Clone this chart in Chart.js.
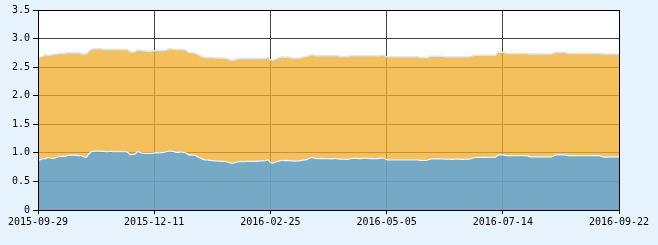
<!DOCTYPE html>
<html>
<head>
<meta charset="utf-8">
<script src="https://cdn.jsdelivr.net/npm/chart.js@4/dist/chart.umd.min.js"></script>
<style>
  html, body { margin: 0; padding: 0; background: #e6f2fc; }
  canvas { display: block; }
</style>
</head>
<body>
<canvas id="c" width="658" height="245"></canvas>
<script>
// Tick labels on the x axis (one every 48 trading days)
const xTickLabels = ['2015-09-29', '2015-12-11', '2016-02-25', '2016-05-05', '2016-07-14', '2016-09-22'];
const xTickStep = 48;

// Lower (blue) series
const lowerSeries = [
  0.87,0.88,0.90,0.90,0.92,0.91,0.905,0.91,0.93,0.94,
  0.94,0.94,0.95,0.96,0.96,0.96,0.955,0.95,0.95,0.93,
  0.92,0.98,1.02,1.03,1.03,1.03,1.03,1.025,1.02,1.02,
  1.03,1.02,1.02,1.02,1.02,1.02,1.02,1.01,0.97,0.97,
  0.975,1.02,1.01,0.995,0.99,0.99,0.99,0.99,1.00,1.005,
  1.00,1.005,1.01,1.02,1.03,1.03,1.025,1.01,1.01,1.015,
  1.01,1.00,0.97,0.96,0.96,0.955,0.93,0.91,0.89,0.875,
  0.875,0.87,0.865,0.86,0.86,0.855,0.85,0.85,0.845,0.83,
  0.82,0.825,0.84,0.845,0.85,0.845,0.85,0.85,0.855,0.85,
  0.85,0.855,0.86,0.86,0.865,0.88,0.83,0.82,0.835,0.85,
  0.86,0.87,0.865,0.87,0.865,0.86,0.855,0.86,0.86,0.87,
  0.875,0.88,0.90,0.92,0.91,0.90,0.90,0.905,0.90,0.90,
  0.90,0.895,0.90,0.90,0.895,0.89,0.89,0.89,0.885,0.90,
  0.905,0.905,0.905,0.90,0.905,0.91,0.905,0.90,0.905,0.90,
  0.90,0.905,0.91,0.905,0.88,0.875,0.875,0.875,0.875,0.875,
  0.875,0.875,0.875,0.875,0.875,0.875,0.875,0.875,0.87,0.87,
  0.87,0.875,0.89,0.895,0.895,0.90,0.895,0.895,0.89,0.89,
  0.89,0.885,0.89,0.89,0.89,0.885,0.89,0.89,0.89,0.90,
  0.915,0.92,0.92,0.92,0.925,0.92,0.92,0.92,0.925,0.925,
  0.96,0.965,0.965,0.955,0.95,0.95,0.95,0.95,0.95,0.95,
  0.95,0.95,0.95,0.93,0.93,0.93,0.93,0.93,0.93,0.93,
  0.93,0.93,0.93,0.945,0.965,0.965,0.965,0.965,0.965,0.95,
  0.95,0.95,0.95,0.95,0.95,0.95,0.95,0.95,0.95,0.95,
  0.95,0.95,0.95,0.935,0.925,0.925,0.93,0.93,0.93,0.93,
  0.93
];

// Upper (orange) series top edge
const upperSeries = [
  2.67,2.68,2.69,2.72,2.71,2.71,2.72,2.73,2.73,2.74,
  2.74,2.745,2.75,2.75,2.75,2.755,2.75,2.75,2.74,2.73,
  2.735,2.78,2.81,2.82,2.82,2.82,2.82,2.815,2.81,2.81,
  2.815,2.81,2.81,2.81,2.81,2.81,2.81,2.81,2.77,2.765,
  2.77,2.80,2.795,2.79,2.785,2.78,2.78,2.78,2.785,2.79,
  2.79,2.79,2.795,2.80,2.82,2.82,2.815,2.81,2.81,2.815,
  2.81,2.80,2.76,2.75,2.75,2.745,2.72,2.70,2.68,2.67,
  2.67,2.67,2.67,2.665,2.66,2.66,2.66,2.655,2.65,2.635,
  2.62,2.625,2.64,2.645,2.65,2.65,2.65,2.65,2.65,2.65,
  2.65,2.65,2.65,2.65,2.655,2.67,2.63,2.62,2.635,2.66,
  2.675,2.68,2.675,2.68,2.67,2.66,2.655,2.66,2.66,2.67,
  2.68,2.69,2.70,2.72,2.71,2.70,2.70,2.70,2.70,2.70,
  2.70,2.70,2.70,2.70,2.70,2.685,2.685,2.685,2.685,2.70,
  2.70,2.70,2.70,2.70,2.70,2.705,2.70,2.70,2.70,2.70,
  2.70,2.70,2.71,2.705,2.68,2.68,2.68,2.68,2.68,2.68,
  2.68,2.68,2.68,2.68,2.68,2.68,2.68,2.68,2.67,2.67,
  2.67,2.675,2.69,2.69,2.69,2.69,2.69,2.69,2.68,2.68,
  2.68,2.68,2.68,2.68,2.68,2.68,2.68,2.68,2.68,2.69,
  2.71,2.71,2.71,2.71,2.71,2.71,2.71,2.71,2.71,2.71,
  2.76,2.76,2.76,2.75,2.74,2.74,2.74,2.74,2.74,2.74,
  2.74,2.74,2.74,2.73,2.73,2.73,2.73,2.73,2.73,2.73,
  2.73,2.73,2.73,2.745,2.76,2.76,2.76,2.76,2.76,2.74,
  2.74,2.74,2.74,2.74,2.74,2.74,2.74,2.74,2.74,2.74,
  2.74,2.74,2.74,2.735,2.73,2.73,2.73,2.73,2.73,2.73,
  2.73
];

const toPoints = arr => arr.map((v, i) => ({ x: i, y: v }));
const lastIndex = (xTickLabels.length - 1) * xTickStep;
const tickFont = { family: 'DejaVu Sans Mono', size: 10 };

const framePlugin = {
  id: 'frame',
  beforeDraw(chart) {
    const { ctx, chartArea: a } = chart;
    ctx.save();
    ctx.fillStyle = '#ffffff';
    ctx.fillRect(a.left, a.top, a.right - a.left, a.bottom - a.top);
    ctx.restore();
  },
  afterDatasetsDraw(chart) {
    const { ctx, chartArea: a } = chart;
    ctx.save();
    ctx.strokeStyle = '#000';
    ctx.lineWidth = 1;
    const l = Math.round(a.left) + 0.5, r = Math.round(a.right) + 0.5;
    const t = Math.round(a.top) + 0.5, b = Math.round(a.bottom) + 0.5;
    ctx.strokeRect(l, t, r - l, b - t);
    ctx.restore();
  }
};

new Chart(document.getElementById('c'), {
  type: 'line',
  data: {
    datasets: [
      {
        data: toPoints(lowerSeries),
        fill: 'origin',
        backgroundColor: 'rgba(106,162,193,0.93)',
        borderColor: '#eef4f8',
        borderWidth: 1.2,
        pointRadius: 0,
        tension: 0
      },
      {
        data: toPoints(upperSeries),
        fill: '-1',
        backgroundColor: 'rgba(240,172,44,0.765)',
        borderColor: '#d6e8f6',
        borderWidth: 1.5,
        pointRadius: 0,
        tension: 0
      }
    ]
  },
  options: {
    responsive: false,
    animation: false,
    layout: { padding: { top: 10, right: 39, left: 0, bottom: 0 } },
    plugins: { legend: { display: false }, tooltip: { enabled: false } },
    scales: {
      x: {
        type: 'linear',
        min: 0,
        max: lastIndex,
        afterFit: s => { s.height = 35; },
        ticks: {
          stepSize: xTickStep,
          autoSkip: false,
          maxRotation: 0,
          color: '#000',
          font: tickFont,
          padding: 2,
          callback: v => xTickLabels[v / xTickStep] ?? ''
        },
        grid: { color: '#444', tickColor: '#000', tickLength: 4 },
        border: { color: '#000' }
      },
      y: {
        min: 0,
        max: 3.5,
        afterFit: s => { s.width = 38; },
        ticks: { stepSize: 0.5, color: '#000', font: tickFont, padding: 3 },
        grid: { color: '#444', tickColor: '#000', tickLength: 5 },
        border: { color: '#000' }
      }
    }
  },
  plugins: [framePlugin]
});
</script>
</body>
</html>
